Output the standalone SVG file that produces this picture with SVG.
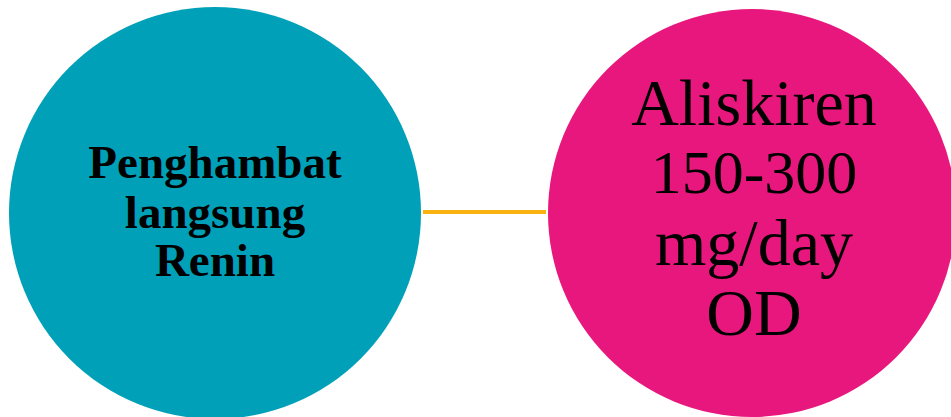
<svg xmlns="http://www.w3.org/2000/svg" width="951" height="417" viewBox="0 0 951 417">
<style>
.lt{font-family:"Liberation Serif","Times New Roman",serif;font-weight:bold;font-size:47px;fill:#000;text-anchor:middle}
.rt{font-family:"Liberation Serif","Times New Roman",serif;font-size:66px;fill:#000;text-anchor:middle}
</style>
<rect width="951" height="417" fill="#fff"/>
<g id="connectors">
<line x1="423" y1="212" x2="546" y2="212" stroke="#F9B20F" stroke-width="4"/>
</g>
<g id="node-left">
<circle cx="215" cy="213" r="206" fill="#00A1B8"/>
<text class="lt" x="215" y="178">Penghambat</text>
<text class="lt" x="215" y="228">langsung</text>
<text class="lt" x="215" y="276">Renin</text>
</g>
<g id="node-right">
<circle cx="752" cy="213" r="204" fill="#E8177D"/>
<text class="rt" x="754" y="125">Aliskiren</text>
<text class="rt" x="754" y="193" style="font-size:62px">150-300</text>
<text class="rt" x="754" y="265">mg/day</text>
<text class="rt" x="754" y="335">OD</text>
</g>
</svg>
